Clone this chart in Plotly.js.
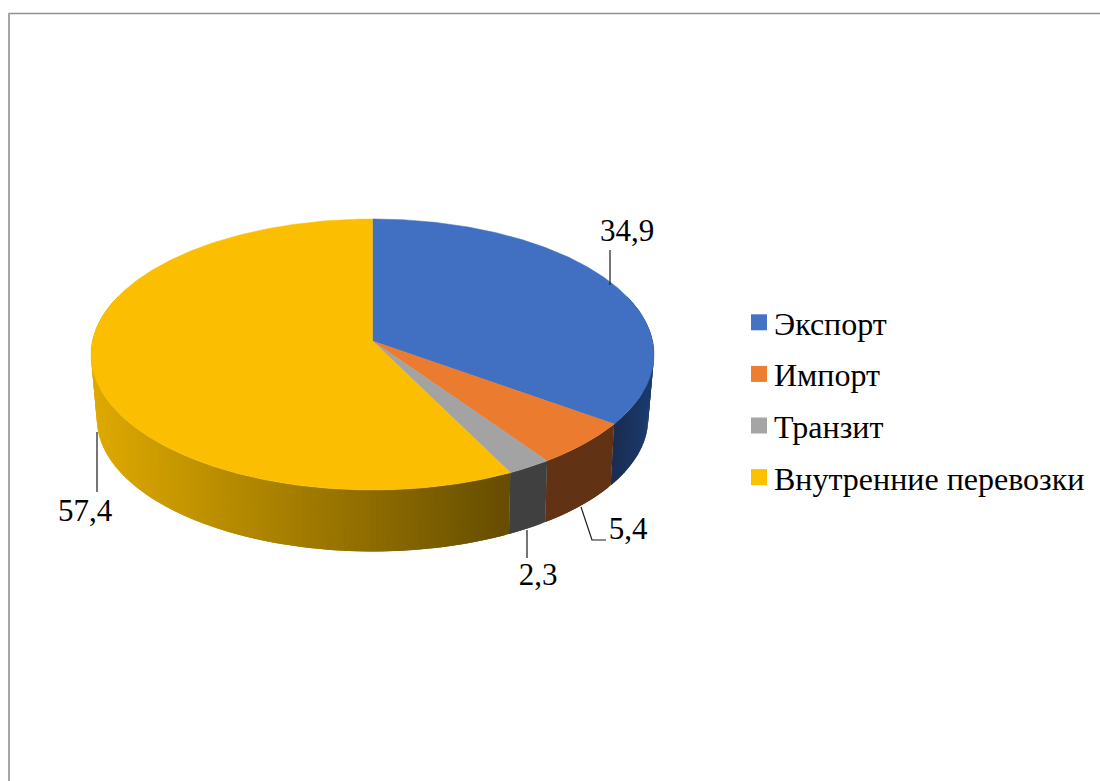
<!DOCTYPE html>
<html lang="ru">
<head>
<meta charset="utf-8">
<script src="https://cdn.plot.ly/plotly-3.0.1.min.js"></script>
<style>html,body{margin:0;padding:0;background:#fff}</style>
</head>
<body>
<div id="chart" style="width:1100px;height:781px"></div>
<script>
// ---- data ----
const categories = ['Экспорт', 'Импорт', 'Транзит', 'Внутренние перевозки'];
const values = [34.9, 5.4, 2.3, 57.4];
// ---- styling ----
const legendColors = ['#4472C4', '#ED7D31', '#A5A5A5', '#FFC000'];
const pieTop = ['#4170C2', '#EB7B2F', '#A3A3A3', '#FBBE00'];
const sideStart = [[27,48,88], [98,50,20], [64,64,64], [222,169,0]];
const sideEnd = [[27,44,80], [98,50,20], [64,64,64], [100,76,0]];
const labelPos = [[627,233], [628,531], [538,577], [85,513]];
const leaders = [
  [[610,250],[610,285]],
  [[581,507],[592,540],[606,540]],
  [[527,530],[527,558]],
  [[97,432],[97,492]]
];
const geo = {cx:372.5, cy:341, A:280.1, B:134.2, k:0.0996, kBottom:0.113, scale:0.978, drop:62.5};
const serif = 'Liberation Serif, Times New Roman, serif';

function project(theta, bottom) {
  const u = Math.sin(theta), v = -Math.cos(theta), d = 1 - (bottom ? geo.kBottom : geo.k) * v;
  const s = bottom ? geo.scale : 1;
  return [geo.cx + s * geo.A * u / d, geo.cy + (bottom ? geo.drop : 0) + s * geo.B * v / d];
}
const rad = d => d * Math.PI / 180;
const total = values.reduce((a, b) => a + b, 0);
const edges = [0];
values.forEach(v => edges.push(edges[edges.length - 1] + v / total * 360));

const traces = [];
// side wall: narrow overlapping strips, painted along the arc so no seams show
const visFrom = 70, visTo = 290;
values.forEach((_, i) => {
  const a0 = Math.max(edges[i], visFrom), a1 = Math.min(edges[i + 1], visTo);
  if (a1 <= a0) return;
  const n = Math.ceil(a1 - a0);
  const x0 = project(rad(a0), true)[0], x1 = project(rad(a1), true)[0];
  for (let j = 0; j < n; j++) {
    const b0 = a0 + (a1 - a0) * j / n, b1 = Math.min(a1, a0 + (a1 - a0) * (j + 2) / n);
    const p = [project(rad(b0), false), project(rad((b0 + b1) / 2), false), project(rad(b1), false),
               project(rad(b1), true), project(rad((b0 + b1) / 2), true), project(rad(b0), true)];
    const mx = project(rad((b0 + b1) / 2), true)[0];
    const t = i === 3 ? (mx - 97) / (510 - 97) : (mx - x1) / (x0 - x1);
    const c = sideEnd[i].map((e, k) => Math.round(e + (sideStart[i][k] - e) * (i === 3 ? 1 - t : t)));
    const col = `rgb(${c.join(',')})`;
    traces.push({type:'scatter', mode:'lines', x:p.map(q => q[0]).concat(p[0][0]), y:p.map(q => q[1]).concat(p[0][1]),
      fill:'toself', fillcolor:col, line:{color:col, width:0}, hoverinfo:'skip', showlegend:false});
  }
});
// top face
values.forEach((_, i) => {
  const xs = [geo.cx], ys = [geo.cy];
  const n = Math.max(4, Math.ceil(edges[i + 1] - edges[i]) * 2);
  for (let j = 0; j <= n; j++) {
    const p = project(rad(edges[i] + (edges[i + 1] - edges[i]) * j / n), false);
    xs.push(p[0]); ys.push(p[1]);
  }
  xs.push(geo.cx); ys.push(geo.cy);
  traces.push({type:'scatter', mode:'lines', x:xs, y:ys, fill:'toself', fillcolor:pieTop[i],
    line:{color:pieTop[i], width:0.5}, name:categories[i], hoverinfo:'skip', showlegend:false});
});
// leader lines
leaders.forEach(l => traces.push({type:'scatter', mode:'lines', x:l.map(p => p[0]), y:l.map(p => p[1]),
  line:{color:'#1a1a1a', width:1.2}, hoverinfo:'skip', showlegend:false}));
// value labels
traces.push({type:'scatter', mode:'text', x:labelPos.map(p => p[0]), y:labelPos.map(p => p[1]),
  text:values.map(v => v.toFixed(1).replace('.', ',')), textposition:'middle center',
  textfont:{family:serif, size:31, color:'#000'}, hoverinfo:'skip', showlegend:false});
// legend entries
categories.forEach((c, i) => traces.push({type:'scatter', mode:'markers', x:[null], y:[null], name:c, legendgroup:c,
  marker:{symbol:'square', size:16, color:legendColors[i]}, hoverinfo:'skip'}));

const layout = {
  width:1100, height:781, margin:{l:0, r:0, t:0, b:0}, paper_bgcolor:'#fff', plot_bgcolor:'#fff',
  font:{family:serif},
  xaxis:{range:[0,1100], visible:false, fixedrange:true},
  yaxis:{range:[781,0], visible:false, fixedrange:true},
  hovermode:false,
  legend:{x:734/1100, y:1-295/781, xanchor:'left', yanchor:'top', bgcolor:'rgba(0,0,0,0)', borderwidth:0,
    font:{family:serif, size:32, color:'#000'}, tracegroupgap:7, itemclick:false, itemdoubleclick:false},
  shapes:[
    {type:'line', xref:'paper', yref:'paper', x0:8/1100, x1:1, y0:1-13.5/781, y1:1-13.5/781, line:{color:'#8f8f8f', width:1.5}},
    {type:'line', xref:'paper', yref:'paper', x0:9/1100, x1:9/1100, y0:1-13/781, y1:0, line:{color:'#a6a6a6', width:2}}
  ]
};
Plotly.newPlot('chart', traces, layout, {displayModeBar:false}).then(gd => {
  // the reference keeps its legend swatches closer to the text than Plotly's default gap
  gd.querySelectorAll('.legend .legendpoints').forEach(n => {
    n.setAttribute('transform', 'translate(5,0)');
  });
});
</script>
</body>
</html>
